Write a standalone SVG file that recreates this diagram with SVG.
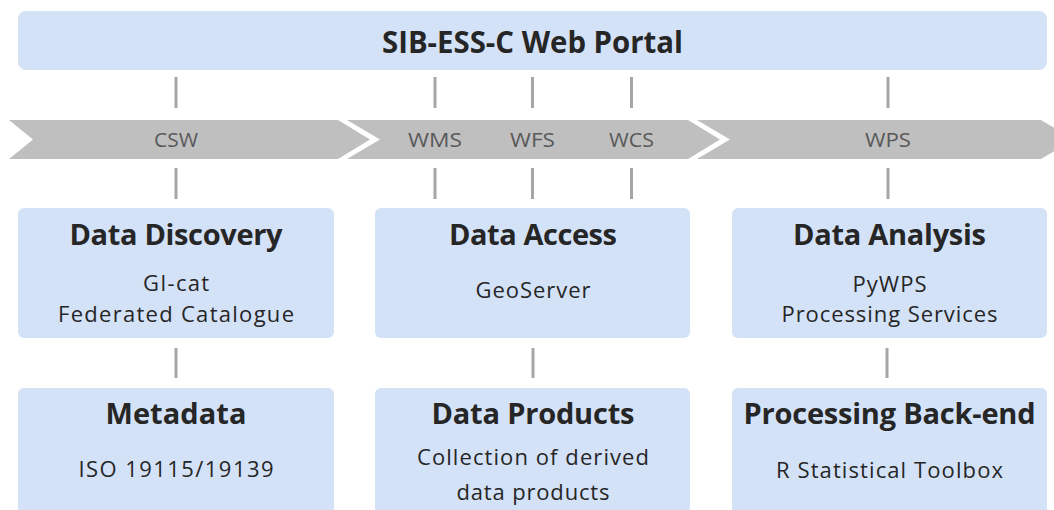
<svg xmlns="http://www.w3.org/2000/svg" width="1054" height="510" viewBox="0 0 1054 510">
  <style>
    .box { fill: #d4e2f8; }
    .chev { fill: #bfbfbf; }
    .conn { stroke: #a6a6a6; stroke-width: 3; fill: none; }
    .title { font-family: "Open Sans", Lato, sans-serif; font-weight: bold; font-size: 31px; fill: #262626; text-anchor: middle; }
    .head { font-family: "Open Sans", Lato, sans-serif; font-weight: bold; font-size: 29px; fill: #262626; text-anchor: middle; }
    .sub { font-family: "Open Sans", Lato, sans-serif; font-size: 22px; fill: #262626; text-anchor: middle; }
    .svc { font-family: "Open Sans", Lato, sans-serif; font-size: 20px; fill: #595959; text-anchor: middle; }
  </style>
  <rect width="1054" height="510" fill="#ffffff"/>

  <g id="portal">
    <rect class="box" x="18" y="11" width="1029" height="59" rx="8"/>
    <text class="title" x="532.5" y="53" textLength="301" lengthAdjust="spacingAndGlyphs">SIB-ESS-C Web Portal</text>
  </g>

  <g id="services">
    <path class="chev" d="M9,120 H338 L370,139.5 L338,159 H9 L33,139.5 Z"/>
    <path class="chev" d="M347,120 H688 L720,139.5 L688,159 H347 L380,139.5 Z"/>
    <path class="chev" d="M697,120 H1041 L1074,139.5 L1041,159 H697 L730,139.5 Z"/>
    <text class="svc" x="176" y="146.5" textLength="44" lengthAdjust="spacingAndGlyphs">CSW</text>
    <text class="svc" x="435" y="146.5" textLength="54" lengthAdjust="spacingAndGlyphs">WMS</text>
    <text class="svc" x="532.5" y="146.5" textLength="45" lengthAdjust="spacingAndGlyphs">WFS</text>
    <text class="svc" x="631.5" y="146.5" textLength="45" lengthAdjust="spacingAndGlyphs">WCS</text>
    <text class="svc" x="888" y="146.5" textLength="46" lengthAdjust="spacingAndGlyphs">WPS</text>
  </g>

  <g id="connectors">
    <line class="conn" x1="176" y1="77" x2="176" y2="108"/>
    <line class="conn" x1="435" y1="77" x2="435" y2="108"/>
    <line class="conn" x1="532.5" y1="77" x2="532.5" y2="108"/>
    <line class="conn" x1="631.5" y1="77" x2="631.5" y2="108"/>
    <line class="conn" x1="888" y1="77" x2="888" y2="108"/>
    <line class="conn" x1="176" y1="168" x2="176" y2="199"/>
    <line class="conn" x1="435" y1="168" x2="435" y2="199"/>
    <line class="conn" x1="532.5" y1="168" x2="532.5" y2="199"/>
    <line class="conn" x1="631.5" y1="168" x2="631.5" y2="199"/>
    <line class="conn" x1="888" y1="168" x2="888" y2="199"/>
    <line class="conn" x1="176" y1="348" x2="176" y2="378"/>
    <line class="conn" x1="533" y1="348" x2="533" y2="378"/>
    <line class="conn" x1="887" y1="348" x2="887" y2="378"/>
  </g>

  <g id="data-discovery">
    <rect class="box" x="18" y="208" width="316" height="130" rx="6"/>
    <text class="head" x="176" y="245" textLength="213">Data Discovery</text>
    <text class="sub" x="176" y="291" textLength="66">GI-cat</text>
    <text class="sub" x="176" y="322" textLength="236">Federated Catalogue</text>
  </g>

  <g id="data-access">
    <rect class="box" x="375" y="208" width="315" height="130" rx="6"/>
    <text class="head" x="533" y="245" textLength="168">Data Access</text>
    <text class="sub" x="533" y="298" textLength="115">GeoServer</text>
  </g>

  <g id="data-analysis">
    <rect class="box" x="732" y="208" width="315" height="130" rx="6"/>
    <text class="head" x="889.5" y="245" textLength="193">Data Analysis</text>
    <text class="sub" x="889.5" y="292" textLength="74">PyWPS</text>
    <text class="sub" x="889.5" y="322" textLength="216">Processing Services</text>
  </g>

  <g id="metadata">
    <rect class="box" x="18" y="388" width="316" height="135" rx="6"/>
    <text class="head" x="176" y="424" textLength="141">Metadata</text>
    <text class="sub" x="176" y="477" textLength="195">ISO 19115/19139</text>
  </g>

  <g id="data-products">
    <rect class="box" x="375" y="388" width="315" height="135" rx="6"/>
    <text class="head" x="533" y="424" textLength="203">Data Products</text>
    <text class="sub" x="533" y="465" textLength="232">Collection of derived</text>
    <text class="sub" x="533" y="500" textLength="153">data products</text>
  </g>

  <g id="processing-backend">
    <rect class="box" x="732" y="388" width="315" height="135" rx="6"/>
    <text class="head" x="889.5" y="424" textLength="292">Processing Back-end</text>
    <text class="sub" x="889.5" y="478" textLength="227">R Statistical Toolbox</text>
  </g>
</svg>
